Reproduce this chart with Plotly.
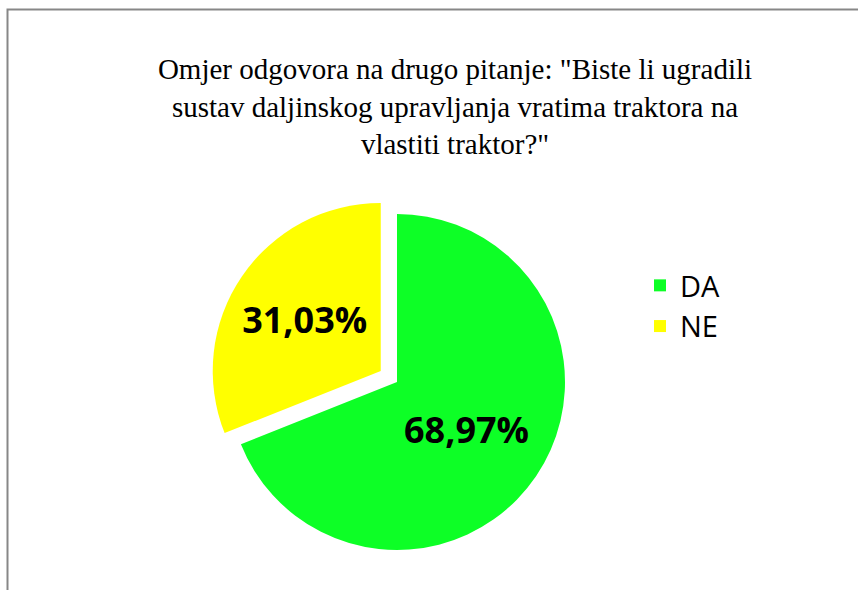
import plotly.graph_objects as go

labels = ["DA", "NE"]
values = [68.97, 31.03]
colors = ["#0DFF26", "#FFFF00"]
pulls = [0, 0.117]
title_text = 'Omjer odgovora na drugo pitanje: "Biste li ugradili<br>sustav daljinskog upravljanja vratima traktora na<br>vlastiti traktor?"'

W, H = 858, 590
cx, cy = 397, 382
r = 168
half = r * (1 + max(pulls))

fig = go.Figure(go.Pie(
    labels=labels,
    values=values,
    marker=dict(colors=colors, line=dict(width=0)),
    pull=pulls,
    sort=False,
    direction="clockwise",
    rotation=0,
    texttemplate="%{value:.2f}%",
    textposition="inside",
    insidetextorientation="horizontal",
    textfont=dict(family="Open Sans", size=36, color="black", weight="bold"),
    domain=dict(x=[(cx - half) / W, (cx + half) / W],
                y=[(H - cy - half) / H, (H - cy + half) / H]),
))

fig.update_layout(
    width=W, height=H,
    margin=dict(l=0, r=0, t=0, b=0),
    paper_bgcolor="white",
    separators=",.",
    title=dict(text=title_text, x=455 / W, xanchor="center", y=1 - 79 / H, yanchor="middle",
               font=dict(family="Liberation Serif", size=29, color="black")),
    legend=dict(x=640 / W, y=1 - 260 / H, xanchor="left", yanchor="top",
                font=dict(family="Open Sans", size=29, color="black"),
                bgcolor="rgba(0,0,0,0)"),
    shapes=[dict(type="rect", xref="paper", yref="paper",
                 x0=7.5 / W, x1=1.2, y0=-0.2, y1=1 - 9.5 / H,
                 line=dict(color="#878787", width=2), fillcolor="rgba(0,0,0,0)", layer="below")],
)

fig.write_html("out.html")
